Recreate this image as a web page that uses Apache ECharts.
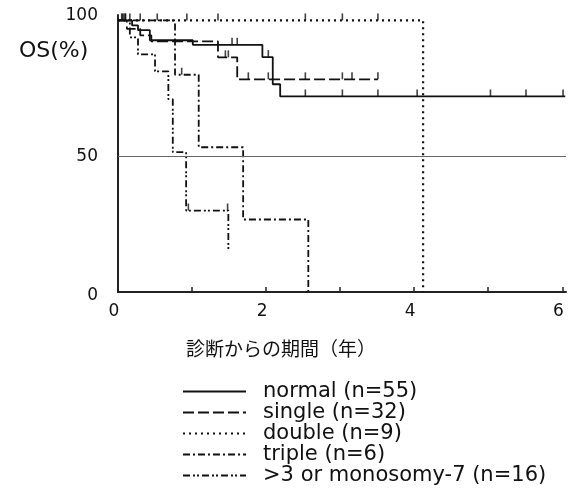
<!DOCTYPE html>
<html>
<head>
<meta charset="utf-8">
<script src="https://cdn.jsdelivr.net/npm/echarts@6/dist/echarts.min.js"></script>
<style>
  html, body { margin: 0; padding: 0; background: #fff; }
  #chart { width: 571px; height: 491px; }
</style>
</head>
<body>
<div id="chart"></div>
<script>
// Kaplan-Meier steps: [years, survival %]
const normalCurve = [[0, 100], [0.19, 98.2], [0.27, 96.4], [0.43, 92.7], [1.01, 91], [1.95, 86.5], [2.09, 76.5], [2.19, 72], [6.04, 72]];
const singleCurve = [[0, 100], [0.12, 96.9], [0.3, 94.5], [0.45, 92.3], [1.35, 86.4], [1.61, 78.3], [3.51, 78.3]];
const doubleCurve = [[0, 100], [4.12, 0]];
const tripleCurve = [[0, 100], [0.77, 80], [1.09, 53.3], [1.69, 26.7], [2.57, 0]];
const mono7Curve = [[0, 100], [0.16, 93.75], [0.27, 87.5], [0.5, 81.25], [0.68, 71], [0.74, 51.5], [0.92, 30], [1.49, 15]];

// censoring marks
const normalCensor = [[0.05, 100], [0.1, 100], [1.54, 91], [1.61, 91], [2.03, 86.5], [2.53, 72], [3.03, 72], [3.51, 72], [4.04, 72], [5.03, 72], [5.51, 72], [6.01, 72]];
const singleCensor = [[0.08, 100], [1.45, 86.4], [1.49, 86.4], [1.76, 78.3], [2.03, 78.3], [2.53, 78.3], [3.03, 78.3], [3.16, 78.3], [3.51, 78.3]];
const doubleCensor = [[0.16, 100], [0.3, 100], [0.53, 100], [0.93, 100], [1.35, 100], [2.53, 100], [3.03, 100], [3.51, 100]];
const tripleCensor = [[0.06, 100], [0.86, 80]];
const mono7Censor = [[0.1, 100], [0.95, 30], [1.48, 30]];

const seriesNames = ["normal (n=55)", "single (n=32)", "double (n=9)", "triple (n=6)", ">3 or monosomy-7 (n=16)"];
const xTickLabels = ["0", "2", "4", "6"];
const yTickLabels = ["0", "50", "100"];
const refLine = 50;
const xAxisTitle = "診断からの期間（年）";
const yAxisTitle = "OS(%)";

const INK = "#111";
const LATIN = "'DejaVu Sans', sans-serif";
const dashes = [
  "solid",
  [11, 4],
  [2, 4],
  [7, 3, 2, 3],
  [7, 3, 2, 2, 2, 3]
];
const curves = [normalCurve, singleCurve, doubleCurve, tripleCurve, mono7Curve];
const censors = [normalCensor, singleCensor, doubleCensor, tripleCensor, mono7Censor];

const lineSeries = curves.map((data, i) => ({
  name: seriesNames[i],
  type: "line",
  step: "end",
  data: data,
  symbol: "none",
  silent: true,
  lineStyle: { color: INK, width: i === 2 ? 2.2 : 1.8, type: dashes[i] },
  itemStyle: { color: INK },
  z: 3,
  ...(i === 0
    ? {
        markLine: {
          silent: true,
          symbol: "none",
          label: { show: false },
          lineStyle: { color: "#666", width: 1, type: "solid" },
          data: [{ yAxis: refLine }]
        }
      }
    : {})
}));

const censorSeries = censors.map((data, i) => ({
  name: seriesNames[i] + " censor",
  type: "scatter",
  data: data,
  symbol: "rect",
  symbolSize: [1.6, 7],
  symbolOffset: [0, -3.5],
  itemStyle: { color: INK },
  silent: true,
  z: 4
}));

const chart = echarts.init(document.getElementById("chart"), null, { renderer: "canvas" });
chart.setOption({
  backgroundColor: "#fff",
  animation: false,
  textStyle: { fontFamily: LATIN },
  title: {
    text: yAxisTitle,
    left: 14,
    top: 35,
    textStyle: { color: INK, fontSize: 22, fontWeight: "normal", fontFamily: LATIN }
  },
  grid: { left: 118, right: 5, top: 15, bottom: 199, containLabel: false },
  xAxis: {
    type: "value",
    min: 0,
    max: 6.05,
    interval: 1,
    name: xAxisTitle,
    nameLocation: "middle",
    nameGap: 47,
    nameTextStyle: {
      color: INK,
      fontSize: 19,
      fontFamily: "'Noto Sans CJK JP', sans-serif",
      padding: [0, 122, 0, 0]
    },
    axisLine: { lineStyle: { color: "#222", width: 2 } },
    axisTick: { show: true, inside: true, length: 5, lineStyle: { color: "#222", width: 1.5 } },
    axisLabel: {
      color: INK,
      fontSize: 17,
      margin: 11,
      padding: [0, 8, 0, 0],
      showMaxLabel: false,
      formatter: (v) => (xTickLabels.includes(String(v)) ? String(v) : "")
    },
    splitLine: { show: false }
  },
  yAxis: {
    type: "value",
    min: 0,
    max: 102,
    interval: 50,
    axisLine: { show: true, lineStyle: { color: "#222", width: 2 } },
    axisTick: { show: false },
    axisLabel: {
      color: INK,
      fontSize: 17,
      margin: 20,
      showMaxLabel: false,
      formatter: (v) => {
        const s = String(v);
        if (!yTickLabels.includes(s)) return "";
        if (s === "100") return "{top|" + s + "}";
        if (s === "0") return "{low|" + s + "}";
        return s;
      },
      rich: {
        top: { fontSize: 17, color: INK, padding: [0, 0, 10, 0] },
        low: { fontSize: 17, color: INK, padding: [8, 0, 0, 0] }
      }
    },
    splitLine: { show: false }
  },
  legend: {
    data: seriesNames,
    orient: "vertical",
    left: 177,
    top: 376,
    itemWidth: 63,
    itemHeight: 14,
    itemGap: 0,
    selectedMode: false,
    itemStyle: { opacity: 0 },
    textStyle: { color: INK, fontSize: 21, lineHeight: 21, fontFamily: LATIN, padding: [0, 0, 0, 12] }
  },
  series: [...lineSeries, ...censorSeries]
});
</script>
</body>
</html>
